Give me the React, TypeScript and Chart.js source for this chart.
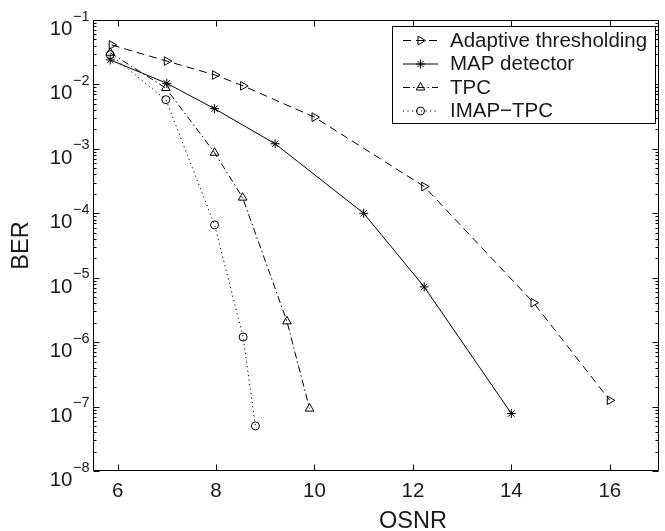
import React, { useEffect, useRef } from 'react';
import { Chart, registerables } from 'chart.js';
import { drawPoint } from 'chart.js/helpers';

Chart.register(...registerables);

// ---- data ----
const seriesNames = ['Adaptive thresholding', 'MAP detector', 'TPC', 'IMAP\u2212TPC'];

const adaptiveX = [5.88, 7.0, 7.98, 8.55, 10.0, 12.23, 14.45, 16.0];
const adaptiveY = [0.041, 0.023, 0.014, 0.0095, 0.0031, 2.6e-4, 4.1e-6, 1.25e-7];

const mapX = [5.85, 7.0, 7.97, 9.2, 11.0, 12.23, 14.0];
const mapY = [0.024, 0.0104, 0.0042, 0.0012, 1.0e-4, 7.2e-6, 7.8e-8];

const tpcX = [5.85, 6.98, 7.97, 8.54, 9.44, 9.9];
const tpcY = [0.031, 0.0088, 8.7e-4, 1.75e-4, 2.1e-6, 9.3e-8];

const imapX = [5.85, 6.98, 7.97, 8.55, 8.8];
const imapY = [0.029, 0.0058, 6.6e-5, 1.2e-6, 5.0e-8];

const xTicks = [6, 8, 10, 12, 14, 16];
const yExponents = [-1, -2, -3, -4, -5, -6, -7, -8];
const xTitle = 'OSNR';
const yTitle = 'BER';

// ---- styles ----
const FONT = '"Liberation Sans", Arial, Helvetica, sans-serif';
const TEXT = '#1a1a1a';
const styles = [
  { dash: [8, 5], pointStyle: 'triangle', rotation: 90, radius: 5 },
  { dash: [], pointStyle: 'star', rotation: 0, radius: 4.5 },
  { dash: [7, 3, 1.5, 3], pointStyle: 'triangle', rotation: 0, radius: 5 },
  { dash: [1.2, 3.3], pointStyle: 'circle', rotation: 0, radius: 4 },
];

const zip = (xs: number[], ys: number[]) => xs.map((x, i) => ({ x, y: ys[i] }));

const decorPlugin = {
  id: 'decor',
  afterDatasetsDraw(chart: any) {
    const ctx: CanvasRenderingContext2D = chart.ctx;
    const xs = chart.scales.x;
    const ys = chart.scales.y;
    const a = chart.chartArea;
    const L = Math.round(a.left) + 0.5;
    const R = Math.round(a.right) - 0.5;
    const T = Math.round(a.top) + 0.5;
    const B = Math.round(a.bottom) - 0.5;
    ctx.save();
    ctx.setLineDash([]);
    ctx.strokeStyle = '#000';
    ctx.lineWidth = 1;
    ctx.beginPath();
    ctx.rect(L, T, R - L, B - T);
    ctx.stroke();

    // x ticks (bottom & top, inward)
    ctx.beginPath();
    xTicks.forEach((v) => {
      const px = Math.round(xs.getPixelForValue(v)) + 0.5;
      ctx.moveTo(px, B);
      ctx.lineTo(px, B - 6);
      ctx.moveTo(px, T);
      ctx.lineTo(px, T + 6);
    });
    // y ticks major + minor (left & right)
    yExponents.forEach((e) => {
      const py = Math.round(ys.getPixelForValue(Math.pow(10, e))) + 0.5;
      ctx.moveTo(L, py);
      ctx.lineTo(L + 6, py);
      ctx.moveTo(R, py);
      ctx.lineTo(R - 6, py);
      if (e < -1) {
        for (let m = 2; m <= 9; m++) {
          const pm = Math.round(ys.getPixelForValue(m * Math.pow(10, e))) + 0.5;
          ctx.moveTo(L, pm);
          ctx.lineTo(L + 3, pm);
          ctx.moveTo(R, pm);
          ctx.lineTo(R - 3, pm);
        }
      }
    });
    ctx.stroke();

    // x tick labels
    ctx.fillStyle = TEXT;
    ctx.font = `20.5px ${FONT}`;
    ctx.textAlign = 'center';
    ctx.textBaseline = 'alphabetic';
    xTicks.forEach((v) => {
      ctx.fillText(String(v), xs.getPixelForValue(v), 497);
    });

    // y tick labels 10^e
    yExponents.forEach((e) => {
      const py = ys.getPixelForValue(Math.pow(10, e));
      const exp = '\u2212' + String(-e);
      ctx.font = `14.5px ${FONT}`;
      const w = ctx.measureText(exp).width;
      ctx.textAlign = 'right';
      ctx.fillText(exp, a.left - 3.5, py + 0.5);
      ctx.font = `20.5px ${FONT}`;
      ctx.fillText('10', a.left - 3.5 - w - 0.5, py + 15);
    });

    // axis titles
    ctx.font = `23.5px ${FONT}`;
    ctx.textAlign = 'center';
    ctx.fillText(xTitle, xs.getPixelForValue(12), 528);
    ctx.save();
    ctx.translate(28, (a.top + a.bottom) / 2);
    ctx.rotate(-Math.PI / 2);
    ctx.textBaseline = 'alphabetic';
    ctx.fillText(yTitle, 0, 0);
    ctx.restore();

    // legend
    const bx = 392.5, by = 26.5, bw = 263, bh = 97;
    ctx.fillStyle = '#fff';
    ctx.fillRect(bx, by, bw, bh);
    ctx.strokeStyle = '#000';
    ctx.lineWidth = 1;
    ctx.strokeRect(bx, by, bw, bh);
    const rows = [40, 63.5, 87, 110.5];
    seriesNames.forEach((name, i) => {
      const s = styles[i];
      const y = rows[i];
      ctx.save();
      ctx.strokeStyle = '#000';
      ctx.lineWidth = 1;
      ctx.setLineDash(s.dash);
      ctx.beginPath();
      ctx.moveTo(403, y + 0.5);
      ctx.lineTo(438, y + 0.5);
      ctx.stroke();
      ctx.setLineDash([]);
      ctx.fillStyle = 'rgba(0,0,0,0)';
      drawPoint(ctx, { pointStyle: s.pointStyle, rotation: s.rotation, radius: s.radius, borderWidth: 1 } as any, 420.5, y + 0.5);
      ctx.restore();
      ctx.fillStyle = TEXT;
      ctx.font = `20.5px ${FONT}`;
      ctx.textAlign = 'left';
      ctx.textBaseline = 'middle';
      ctx.fillText(name, 450, y + 1);
    });
    ctx.restore();
  },
};

export default function App() {
  const ref = useRef<HTMLCanvasElement | null>(null);
  useEffect(() => {
    if (!ref.current) return;
    const series = [zip(adaptiveX, adaptiveY), zip(mapX, mapY), zip(tpcX, tpcY), zip(imapX, imapY)];
    const chart = new Chart(ref.current, {
      type: 'line',
      data: {
        datasets: series.map((d, i) => ({
          label: seriesNames[i],
          data: d,
          borderColor: '#000',
          borderWidth: 1,
          borderDash: styles[i].dash,
          fill: false,
          tension: 0,
          pointStyle: styles[i].pointStyle as any,
          pointRotation: styles[i].rotation,
          pointRadius: styles[i].radius,
          pointBorderColor: '#000',
          pointBackgroundColor: 'rgba(0,0,0,0)',
          pointBorderWidth: 1,
        })),
      },
      options: {
        responsive: false,
        devicePixelRatio: 1,
        animation: false,
        layout: { padding: { left: 93, right: 1, top: 20, bottom: 60 } },
        plugins: { legend: { display: false }, tooltip: { enabled: false } },
        scales: {
          x: { type: 'linear', min: 5.5, max: 17, display: false },
          y: { type: 'logarithmic', min: 1e-8, max: 1e-1, display: false },
        },
      },
      plugins: [decorPlugin],
    });
    return () => chart.destroy();
  }, []);
  return (
    <div style={{ position: 'absolute', left: 0, top: 0, width: 665, height: 531, background: '#fff' }}>
      <canvas ref={ref} width={665} height={531} />
    </div>
  );
}
